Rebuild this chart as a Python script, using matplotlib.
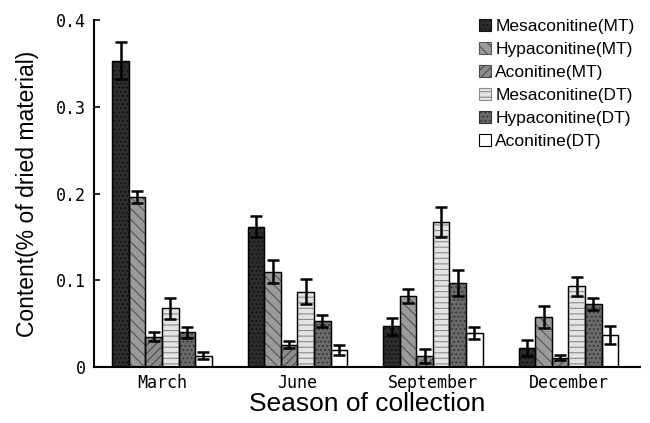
import matplotlib as mpl
import matplotlib.pyplot as plt
import numpy as np

mpl.rcParams.update({
    "font.family": ["Liberation Sans", "DejaVu Sans"],
    "hatch.linewidth": 0.8,
})

seasons = ["March", "June", "September", "December"]
series = ["Mesaconitine(MT)", "Hypaconitine(MT)", "Aconitine(MT)",
          "Mesaconitine(DT)", "Hypaconitine(DT)", "Aconitine(DT)"]

mesa_mt = [0.353, 0.162, 0.047, 0.022]
hypa_mt = [0.196, 0.110, 0.082, 0.058]
acon_mt = [0.035, 0.026, 0.013, 0.011]
mesa_dt = [0.068, 0.087, 0.167, 0.093]
hypa_dt = [0.040, 0.053, 0.097, 0.073]
acon_dt = [0.013, 0.020, 0.039, 0.037]

mesa_mt_err = [0.021, 0.012, 0.010, 0.009]
hypa_mt_err = [0.007, 0.013, 0.008, 0.013]
acon_mt_err = [0.005, 0.004, 0.008, 0.003]
mesa_dt_err = [0.012, 0.014, 0.017, 0.011]
hypa_dt_err = [0.006, 0.007, 0.015, 0.007]
acon_dt_err = [0.004, 0.006, 0.007, 0.010]

values = [mesa_mt, hypa_mt, acon_mt, mesa_dt, hypa_dt, acon_dt]
errors = [mesa_mt_err, hypa_mt_err, acon_mt_err, mesa_dt_err, hypa_dt_err, acon_dt_err]

# grayscale fills + hatch textures mimicking the scanned print
faces = ["#2e2e2e", "#9a9a9a", "#8c8c8c", "#e4e4e4", "#6a6a6a", "white"]
hatches = ["....", "\\\\\\", "////", "---", "....", None]
hatch_cols = ["#111111", "#555555", "#4a4a4a", "#8a8a8a", "#333333", "black"]

fig = plt.figure(figsize=(6.5, 4.23), dpi=100)
ax = fig.add_axes([0.145, 0.132, 0.84, 0.821])

xs = np.arange(len(seasons))
w = 0.122
for i, (v, e) in enumerate(zip(values, errors)):
    pos = xs + (i - 2.5) * w
    ax.bar(pos, v, w, color=faces[i], edgecolor=hatch_cols[i],
           hatch=hatches[i], linewidth=0.8, label=series[i], zorder=2)
    # black outline on top of hatch-coloured edge
    ax.bar(pos, v, w, color="none", edgecolor="black", linewidth=1.0, zorder=3)
    ax.errorbar(pos, v, yerr=e, fmt="none", ecolor="black", elinewidth=1.8,
                capsize=4, capthick=1.8, zorder=4)

ax.set_xlim(-0.5, 3.53)
ax.set_ylim(0, 0.4)
ax.set_yticks([0, 0.1, 0.2, 0.3, 0.4])
ax.set_yticklabels(["0", "0.1", "0.2", "0.3", "0.4"],
                   family="DejaVu Sans Mono", fontsize=12)
ax.set_xticks(xs)
ax.set_xticklabels(seasons, family="DejaVu Sans Mono", fontsize=12)
ax.tick_params(axis="x", length=0, pad=5)
ax.tick_params(axis="y", direction="in", length=4, width=1.2, pad=6)

for s in ["top", "right"]:
    ax.spines[s].set_visible(False)
for s in ["left", "bottom"]:
    ax.spines[s].set_linewidth(1.5)

ax.set_ylabel("Content(% of dried material)", fontsize=16.5, labelpad=12)
ax.set_xlabel("Season of collection", fontsize=19, labelpad=0)

ax.legend(loc="upper right", bbox_to_anchor=(0.995, 0.983),
          bbox_transform=fig.transFigure, frameon=False,
          fontsize=12.5, handlelength=0.7, handleheight=0.7, handletextpad=0.25,
          labelspacing=0.45, borderpad=0.2)

fig.savefig("out.png", dpi=100)
